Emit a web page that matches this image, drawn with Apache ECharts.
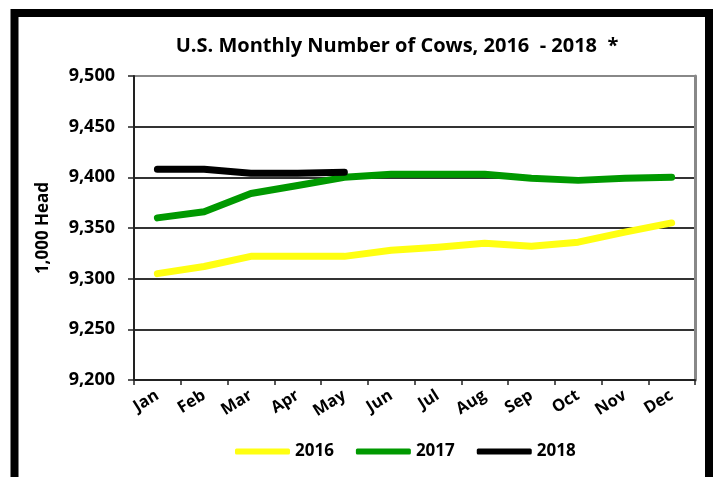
<!DOCTYPE html>
<html>
<head>
<meta charset="utf-8">
<script src="https://cdn.jsdelivr.net/npm/echarts@6/dist/echarts.min.js"></script>
<style>
html,body{margin:0;padding:0;background:#fff;}
#chart{width:713px;height:477px;}
</style>
</head>
<body>
<div id="chart"></div>
<script>
var months = ['Jan','Feb','Mar','Apr','May','Jun','Jul','Aug','Sep','Oct','Nov','Dec'];
var cows2016 = [9305, 9312, 9322, 9322, 9322, 9328, 9331, 9335, 9332, 9336, 9346, 9355];
var cows2017 = [9360, 9366, 9384, 9392, 9400, 9403, 9403, 9403, 9399, 9397, 9399, 9400];
var cows2018 = [9408, 9408, 9404, 9404, 9405];
var yTicks = [9200, 9250, 9300, 9350, 9400, 9450, 9500];

var FONT = 'Open Sans';
var chart = echarts.init(document.getElementById('chart'), null, {renderer:'canvas'});
function lineSeries(name, data, color){
  return {
    name: name, type: 'line', data: data, symbol: 'none', smooth: false,
    lineStyle: {color: color, width: 7, cap: 'round', join: 'round'},
    itemStyle: {color: color}, z: 5
  };
}
chart.setOption({
  animation: false,
  backgroundColor: '#fff',
  title: {
    text: 'U.S. Monthly Number of Cows, 2016  - 2018  *',
    left: 392, top: 31, textAlign: 'center',
    textStyle: {fontFamily: FONT, fontWeight: 'bold', fontSize: 20, color: '#000'}
  },
  legend: {
    top: 438, left: 230,
    itemWidth: 55, itemHeight: 6, itemGap: 22,
    icon: 'roundRect',
    textStyle: {fontFamily: FONT, fontWeight: 'bold', fontSize: 17, color: '#000'},
    data: ['2016','2017','2018']
  },
  grid: {left: 134, right: 18, top: 76, bottom: 97},
  xAxis: {
    type: 'category', data: months, boundaryGap: true,
    axisLine: {lineStyle: {color: '#222', width: 2}},
    axisTick: {show: true, length: 5, lineStyle: {color: '#222', width: 1.5}},
    axisLabel: {rotate: 32, margin: 14, fontFamily: FONT, fontWeight: 'bold', fontSize: 16.5, color: '#000'}
  },
  yAxis: [{
    type: 'value', min: yTicks[0], max: yTicks[yTicks.length-1], interval: 50,
    name: '1,000 Head', nameLocation: 'middle', nameGap: 82, nameRotate: 90,
    nameTextStyle: {fontFamily: FONT, fontWeight: 'bold', fontSize: 17, color: '#000'},
    axisLine: {show: true, lineStyle: {color: '#222', width: 2}},
    axisTick: {show: true, length: 6, lineStyle: {color: '#222', width: 1.5}},
    axisLabel: {margin: 19, fontFamily: FONT, fontWeight: 'bold', fontSize: 18, color: '#000',
      formatter: function(v){ return v.toLocaleString('en-US'); }},
    splitLine: {show: true, lineStyle: {color: ['#333','#333','#333','#333','#333','#333','#888'], width: 2}}
  },{
    type: 'value', position: 'right', min: yTicks[0], max: yTicks[yTicks.length-1], interval: 50,
    axisLine: {show: true, lineStyle: {color: '#888', width: 3}},
    axisTick: {show: false}, axisLabel: {show: false}, splitLine: {show: false}
  }],
  graphic: [{
    type: 'rect', silent: true,
    shape: {x: 14.5, y: 13, width: 694.5, height: 520},
    style: {fill: 'none', stroke: '#000', lineWidth: 8}
  }],
  series: [
    lineSeries('2016', cows2016, '#FFFF11'),
    lineSeries('2017', cows2017, '#009900'),
    lineSeries('2018', cows2018, '#000000')
  ]
});
</script>
</body>
</html>
